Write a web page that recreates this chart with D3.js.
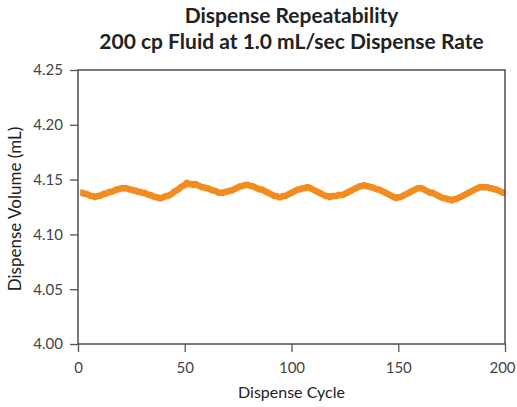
<!DOCTYPE html>
<html>
<head>
<meta charset="utf-8">
<script src="https://cdn.jsdelivr.net/npm/d3@7"></script>
<style>
  body { margin: 0; background: #fff; }
  text { font-family: Lato, "Open Sans", sans-serif; }
</style>
</head>
<body>
<div id="chart"></div>
<script>
var titleLines = ['Dispense Repeatability', '200 cp Fluid at 1.0 mL/sec Dispense Rate'];
var xLabel = 'Dispense Cycle';
var yLabel = 'Dispense Volume (mL)';
var xTicks = [0, 50, 100, 150, 200];
var yTicks = [4.00, 4.05, 4.10, 4.15, 4.20, 4.25];

// dispensed volume per cycle, cycles 1..200
var volumes = [
    4.138, 4.138, 4.137, 4.137, 4.136, 4.135, 4.135, 4.134, 4.135, 4.135,
    4.136, 4.137, 4.137, 4.138, 4.139, 4.139, 4.140, 4.141, 4.141, 4.142,
    4.142, 4.142, 4.142, 4.141, 4.141, 4.140, 4.140, 4.139, 4.139, 4.138,
    4.138, 4.137, 4.136, 4.136, 4.135, 4.134, 4.134, 4.133, 4.133, 4.134,
    4.135, 4.135, 4.136, 4.137, 4.139, 4.140, 4.141, 4.143, 4.144, 4.145,
    4.147, 4.146, 4.146, 4.145, 4.146, 4.145, 4.144, 4.143, 4.143, 4.142,
    4.142, 4.141, 4.140, 4.140, 4.139, 4.138, 4.138, 4.138, 4.139, 4.139,
    4.140, 4.140, 4.141, 4.142, 4.143, 4.144, 4.144, 4.145, 4.145, 4.145,
    4.144, 4.144, 4.143, 4.142, 4.141, 4.141, 4.140, 4.139, 4.138, 4.137,
    4.136, 4.135, 4.135, 4.134, 4.134, 4.135, 4.135, 4.136, 4.137, 4.138,
    4.139, 4.140, 4.141, 4.141, 4.142, 4.142, 4.143, 4.143, 4.142, 4.141,
    4.140, 4.139, 4.138, 4.137, 4.136, 4.135, 4.135, 4.134, 4.135, 4.135,
    4.135, 4.136, 4.136, 4.136, 4.137, 4.138, 4.139, 4.140, 4.141, 4.142,
    4.143, 4.144, 4.144, 4.145, 4.144, 4.144, 4.143, 4.143, 4.142, 4.141,
    4.141, 4.140, 4.139, 4.138, 4.137, 4.136, 4.135, 4.134, 4.133, 4.134,
    4.134, 4.135, 4.136, 4.137, 4.138, 4.139, 4.140, 4.141, 4.142, 4.142,
    4.142, 4.141, 4.140, 4.139, 4.138, 4.138, 4.137, 4.136, 4.135, 4.134,
    4.133, 4.133, 4.132, 4.132, 4.131, 4.132, 4.132, 4.133, 4.134, 4.135,
    4.136, 4.137, 4.138, 4.139, 4.140, 4.141, 4.142, 4.143, 4.143, 4.143,
    4.143, 4.143, 4.142, 4.142, 4.141, 4.141, 4.140, 4.139, 4.138, 4.138
];

var width = 517;
var height = 407;
var margin = ({ top: 70, right: 12, bottom: 63, left: 78 });

var data = volumes.map((v, i) => ({ cycle: i + 1, volume: v }));

var x = d3.scaleLinear()
    .domain([0, 200])
    .range([margin.left, width - margin.right]);
var y = d3.scaleLinear()
    .domain([4.00, 4.25])
    .range([height - margin.bottom, margin.top]);

var svg = d3.select('#chart')
    .append('svg')
    .attr('width', width)
    .attr('height', height);

svg.append('g')
    .attr('text-anchor', 'middle')
    .attr('font-weight', 'bold')
    .attr('font-size', 21)
    .attr('fill', '#222')
    .selectAll('text').data(titleLines).enter().append('text')
    .attr('x', (margin.left + width - margin.right) / 2)
    .attr('y', (d, i) => 23 + i * 25.5)
    .text(d => d);

var line = d3.line()
    .x(d => x(d.cycle))
    .y(d => y(d.volume));

svg.append('path')
    .datum(data)
    .attr('fill', 'none')
    .attr('stroke', '#F28C1F')
    .attr('stroke-width', 6.5)
    .attr('stroke-linejoin', 'round')
    .attr('d', line);

// frame
svg.append('rect')
    .attr('x', margin.left)
    .attr('y', margin.top)
    .attr('width', width - margin.left - margin.right)
    .attr('height', height - margin.top - margin.bottom)
    .attr('fill', 'none')
    .attr('stroke', '#333')
    .attr('stroke-width', 1.3);

var xAxis = g => g
    .attr('transform', `translate(0,${height - margin.bottom})`)
    .call(d3.axisBottom(x).tickValues(xTicks).tickSize(8).tickPadding(10).tickSizeOuter(0))
    .call(g => g.select('.domain').remove());
var yAxis = g => g
    .attr('transform', `translate(${margin.left},0)`)
    .call(d3.axisLeft(y).tickValues(yTicks).tickFormat(d3.format('.2f')).tickSize(8).tickPadding(7).tickSizeOuter(0))
    .call(g => g.select('.domain').remove());

svg.append('g').call(xAxis);
svg.append('g').call(yAxis);

svg.selectAll('.tick line').attr('stroke', '#555').attr('stroke-width', 1.3);
svg.selectAll('.tick text')
    .attr('font-family', 'Lato, sans-serif')
    .attr('font-size', 15)
    .attr('fill', '#444');
// keep the last x label inside the window
svg.selectAll('.tick text').filter(d => d === 200).attr('dx', -3);

svg.append('text')
    .attr('x', (margin.left + width - margin.right) / 2)
    .attr('y', 398)
    .attr('text-anchor', 'middle')
    .attr('font-size', 16)
    .attr('fill', '#222')
    .text(xLabel);

svg.append('text')
    .attr('transform', `translate(21,${(margin.top + height - margin.bottom) / 2 + 2}) rotate(-90)`)
    .attr('text-anchor', 'middle')
    .attr('font-size', 17)
    .attr('fill', '#222')
    .text(yLabel);
</script>
</body>
</html>
